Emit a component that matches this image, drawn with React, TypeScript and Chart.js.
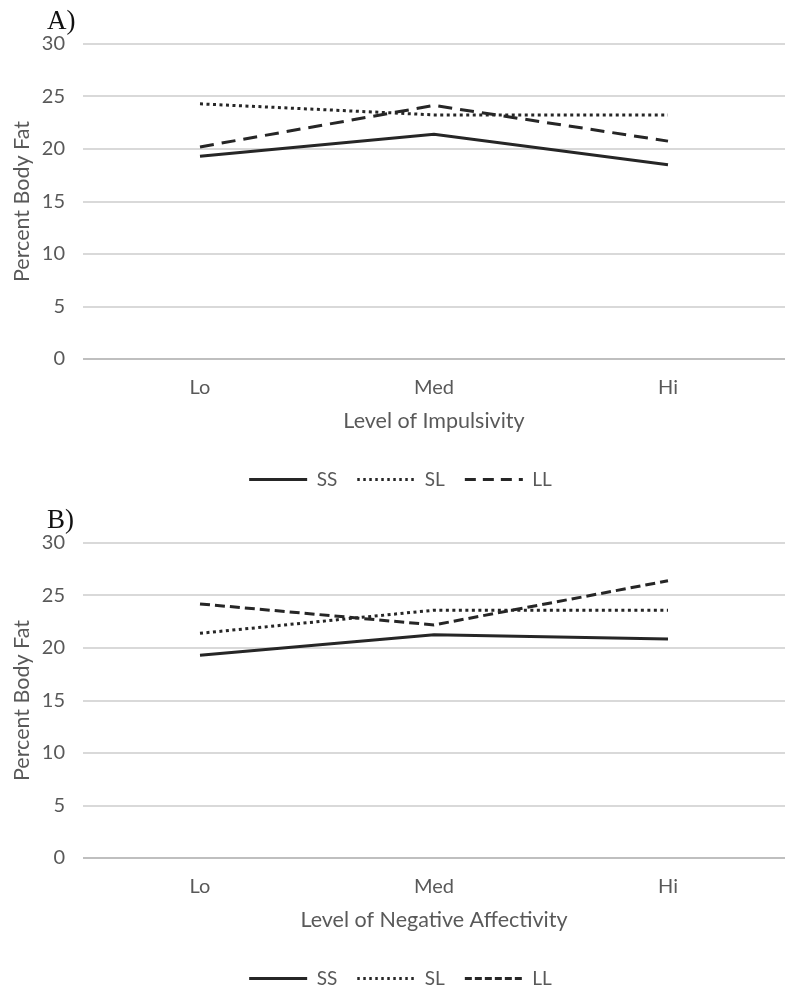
import React, { useEffect, useRef } from "react";
import { Chart, registerables } from "chart.js";

Chart.register(...registerables);

// ---- data ----
const categories = ["Lo", "Med", "Hi"];
const seriesNames = ["SS", "SL", "LL"];
const impulsivitySS = [19.3, 21.4, 18.5];
const impulsivitySL = [24.3, 23.25, 23.25];
const impulsivityLL = [20.2, 24.15, 20.75];
const negAffectSS = [19.3, 21.25, 20.85];
const negAffectSL = [21.4, 23.6, 23.6];
const negAffectLL = [24.2, 22.2, 26.4];
const yMin = 0;
const yMax = 30;
const yStep = 5;
const yAxisTitle = "Percent Body Fat";

const FONT = "Lato, 'Open Sans', sans-serif";
const TEXT = "#595959";
const LINE = "#262626";

type PanelProps = {
  label: string;
  xTitle: string;
  ss: number[];
  sl: number[];
  ll: number[];
  llDash: number[];
  llLegendDash: number[];
  top: number;
};

const shiftLegend = {
  id: "shiftLegend",
  afterLayout(chart: any) {
    const lg = chart.legend;
    if (lg) {
      lg.left += 8;
      lg.right += 8;
    }
  },
};

function Panel({ label, xTitle, ss, sl, ll, llDash, llLegendDash, top }: PanelProps) {
  const ref = useRef<HTMLCanvasElement | null>(null);
  useEffect(() => {
    if (!ref.current) return;
    const tickFont = { family: FONT, size: 20 };
    const titleFont = { family: FONT, size: 21.5 };
    const legendFont = { family: FONT, size: 19 };
    const chart = new Chart(ref.current, {
      type: "line",
      data: {
        labels: categories,
        datasets: [
          {
            label: seriesNames[0],
            data: ss,
            borderColor: LINE,
            backgroundColor: LINE,
            borderWidth: 3,
            pointRadius: 0,
            pointStyle: "line",
            tension: 0,
          },
          {
            label: seriesNames[1],
            data: sl,
            borderColor: LINE,
            backgroundColor: LINE,
            borderWidth: 3,
            borderDash: [3, 3.5],
            pointRadius: 0,
            pointStyle: "line",
            tension: 0,
          },
          {
            label: seriesNames[2],
            data: ll,
            borderColor: LINE,
            backgroundColor: LINE,
            borderWidth: 3,
            borderDash: llDash,
            pointRadius: 0,
            pointStyle: "line",
            tension: 0,
          },
        ],
      },
      options: {
        animation: false,
        responsive: false,
        maintainAspectRatio: false,
        layout: { padding: { top: 44, right: 3, left: 0, bottom: 0 } },
        plugins: {
          tooltip: { enabled: false },
          title: { display: false },
          legend: {
            display: true,
            position: "bottom",
            labels: {
              usePointStyle: true,
              pointStyleWidth: 58,
              padding: 20,
              color: TEXT,
              font: legendFont,
              generateLabels: (c: any) => {
                const items = Chart.defaults.plugins.legend.labels.generateLabels(c);
                items.forEach((it: any, i: number) => {
                  if (i === 2) it.lineDash = llLegendDash;
                  if (i === 1) it.lineDash = [2.5, 3.5];
                });
                return items;
              },
            },
          },
        },
        scales: {
          x: {
            type: "category",
            offset: true,
            grid: { display: false, drawTicks: false },
            border: { display: false },
            ticks: { color: TEXT, font: tickFont, padding: 17 },
            title: {
              display: true,
              text: xTitle,
              color: TEXT,
              font: titleFont,
              padding: { top: 0, bottom: 16.5 },
            },
            afterFit: (s: any) => {
              s.height = 91;
            },
          },
          y: {
            min: yMin,
            max: yMax,
            ticks: { stepSize: yStep, color: TEXT, font: tickFont, padding: 18 },
            grid: {
              drawTicks: false,
              lineWidth: 2,
              color: (ctx: any) => (ctx.tick && ctx.tick.value === 0 ? "#bfbfbf" : "#d9d9d9"),
            },
            border: { display: false },
            title: {
              display: true,
              text: yAxisTitle,
              color: TEXT,
              font: titleFont,
              padding: { top: 9, bottom: 0 },
            },
            afterFit: (s: any) => {
              s.width = 83;
            },
          },
        },
      } as any,
      plugins: [shiftLegend],
    });
    return () => chart.destroy();
  }, []);
  return (
    <div style={{ position: "absolute", left: 0, top, width: 788, height: 499 }}>
      <canvas ref={ref} width={788} height={499} style={{ width: 788, height: 499, display: "block" }} />
      <div
        style={{
          position: "absolute",
          left: 47,
          top: 5,
          fontFamily: "'Liberation Serif', 'DejaVu Serif', serif",
          fontSize: 27,
          lineHeight: "30px",
          color: "#111",
        }}
      >
        {label}
      </div>
    </div>
  );
}

export default function App() {
  return (
    <div style={{ position: "absolute", left: 0, top: 0, width: 788, height: 992, overflow: "hidden", background: "#fff" }}>
      <Panel
        label="A)"
        xTitle="Level of Impulsivity"
        ss={impulsivitySS}
        sl={impulsivitySL}
        ll={impulsivityLL}
        llDash={[14, 8]}
        llLegendDash={[11, 7]}
        top={0}
      />
      <Panel
        label="B)"
        xTitle="Level of Negative Affectivity"
        ss={negAffectSS}
        sl={negAffectSL}
        ll={negAffectLL}
        llDash={[10, 5]}
        llLegendDash={[7, 3]}
        top={499}
      />
    </div>
  );
}
